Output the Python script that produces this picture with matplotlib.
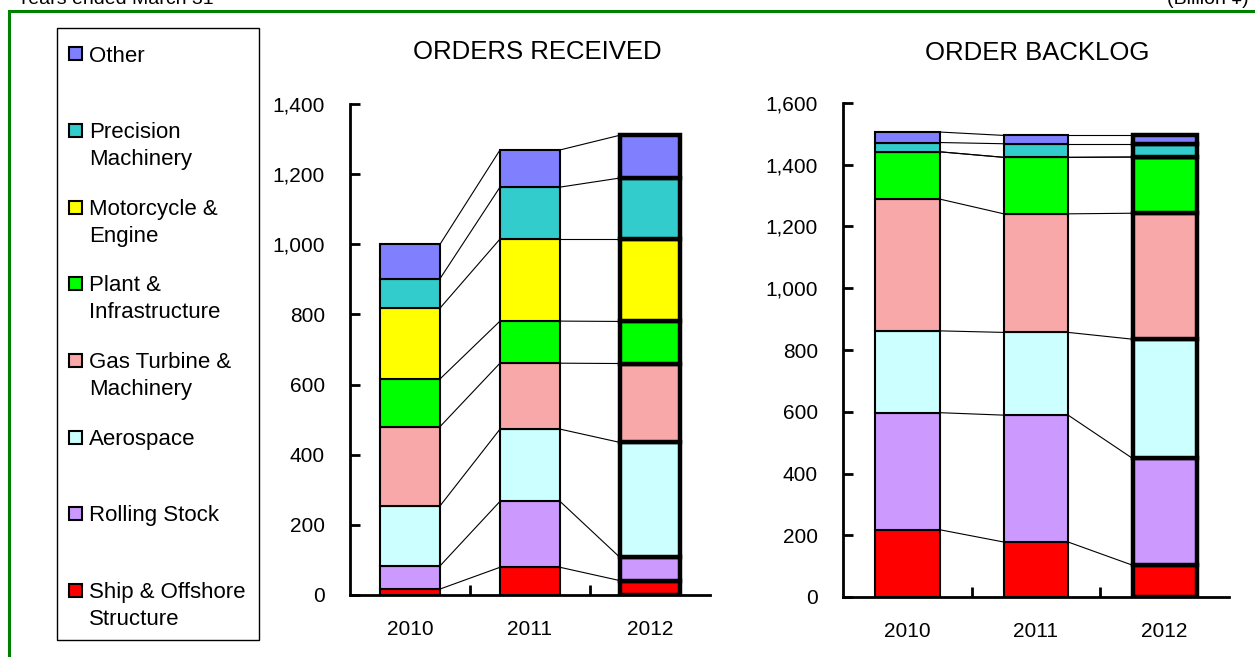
import matplotlib
matplotlib.use("Agg")
import matplotlib.pyplot as plt
from matplotlib.patches import Rectangle

plt.rcParams['font.family'] = ['Liberation Sans', 'DejaVu Sans']

# ---------------- data ----------------
years = ["2010", "2011", "2012"]
segments = ["Ship & Offshore\nStructure", "Rolling Stock", "Aerospace",
            "Gas Turbine &\nMachinery", "Plant &\nInfrastructure",
            "Motorcycle &\nEngine", "Precision\nMachinery", "Other"]
colors = ["#FF0000", "#CC99FF", "#CCFFFF", "#F8A8A8", "#00FF00",
          "#FFFF00", "#33CCCC", "#8080FF"]

# Orders received (billion yen), per segment, per year
orders_2010 = [17, 66, 171, 226, 136, 202, 84, 98]
orders_2011 = [79, 188, 206, 188, 120, 234, 148, 106]
orders_2012 = [41, 66, 328, 225, 120, 235, 174, 122]

# Order backlog (billion yen), per segment, per year
backlog_2010 = [218, 379, 265, 427, 153, 0, 30, 34]
backlog_2011 = [178, 411, 268, 384, 183, 0, 44, 27]
backlog_2012 = [103, 346, 386, 408, 182, 0, 43, 27]

orders_yticks = [0, 200, 400, 600, 800, 1000, 1200, 1400]
backlog_yticks = [0, 200, 400, 600, 800, 1000, 1200, 1400, 1600]

# ---------------- layout helpers ----------------
W, H = 1255, 657
fig = plt.figure(figsize=(W / 100, H / 100), dpi=100)


def fx(px):
    return px / W


def fy(py):
    return 1 - py / H


def axes_px(x0, x1, ytop, ybot):
    return fig.add_axes([fx(x0), fy(ybot), fx(x1 - x0), (ybot - ytop) / H])


def stacked(ax, data, yticks):
    bw = 0.5
    cums = []
    for i, vals in enumerate(data):
        lw = 3.2 if i == len(data) - 1 else 1.5
        bottom = 0
        cum = []
        for v, c in zip(vals, colors):
            ax.bar(i, v, bottom=bottom, width=bw, color=c, edgecolor="black",
                   linewidth=lw, zorder=3)
            bottom += v
            cum.append(bottom)
        cums.append(cum)
    # connector lines
    for i in range(len(data) - 1):
        for a, b in zip(cums[i], cums[i + 1]):
            ax.plot([i + bw / 2, i + 1 - bw / 2], [a, b], color="black",
                    linewidth=0.8, zorder=2)
    ax.set_xlim(-0.5, len(data) - 0.5)
    ax.set_ylim(yticks[0], yticks[-1])
    ax.set_yticks(yticks)
    ax.set_yticklabels([f"{t:,}" for t in yticks])
    ax.set_xticks(range(len(years)))
    ax.set_xticklabels(years)
    ax.set_xticks([i + 0.5 for i in range(len(years) - 1)], minor=True)
    ax.tick_params(axis="x", which="major", length=0, pad=18, labelsize=15)
    ax.tick_params(axis="x", which="minor", direction="in", length=7, width=2)
    ax.tick_params(axis="y", direction="in", length=7, width=2, pad=18,
                   labelsize=15)
    for s in ("top", "right"):
        ax.spines[s].set_visible(False)
    for s in ("left", "bottom"):
        ax.spines[s].set_linewidth(2)
        ax.spines[s].set_color("black")
    ax.patch.set_alpha(0)


ax1 = axes_px(350, 710, 104, 595)
stacked(ax1, [orders_2010, orders_2011, orders_2012], orders_yticks)
ax2 = axes_px(843, 1229, 103, 597)
stacked(ax2, [backlog_2010, backlog_2011, backlog_2012], backlog_yticks)

fig.text(fx(537), fy(52), "ORDERS RECEIVED", ha="center", va="center",
         fontsize=18.5)
fig.text(fx(1037), fy(53), "ORDER BACKLOG", ha="center", va="center",
         fontsize=18.5)

# green frame
fig.add_artist(Rectangle((fx(9), fy(H + 20)), fx(W + 20), (H + 20 - 11) / H,
                         transform=fig.transFigure, fill=False,
                         edgecolor="#008000", linewidth=2.2))

# header (partially clipped at the top edge, as in the reference)
fig.text(fx(17), fy(4), "Years ended March 31", ha="left", va="baseline",
         fontsize=14)
fig.text(fx(1167), fy(4), "(Billion \u00a5)", ha="left", va="baseline",
         fontsize=14)

# legend box
fig.add_artist(Rectangle((fx(56.5), fy(640)), fx(258.5 - 56.5), (640 - 28) / H,
                         transform=fig.transFigure, fill=False,
                         edgecolor="black", linewidth=1.0))
legend_rows = [53, 130, 207, 283, 360, 437, 513, 590]
line_gap = 26
for row, (lab, col) in zip(legend_rows, zip(segments[::-1], colors[::-1])):
    fig.add_artist(Rectangle((fx(69), fy(row + 7)), fx(13), 13 / H,
                             transform=fig.transFigure, facecolor=col,
                             edgecolor="black", linewidth=1.5))
    n = lab.count("\n") + 1
    fig.text(fx(89), fy(row + 3 + (n - 1) * line_gap / 2), lab, ha="left",
             va="center", fontsize=16, linespacing=1.35)

fig.savefig("out.png", dpi=100)
